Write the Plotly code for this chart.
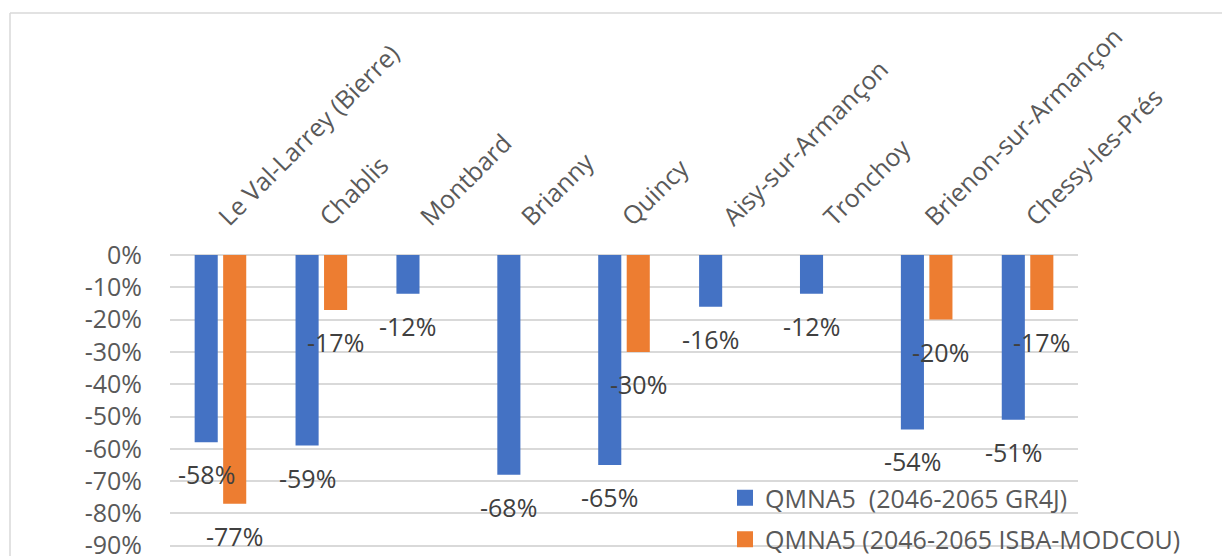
import plotly.graph_objects as go

categories = ["Le Val-Larrey (Bierre)", "Chablis", "Montbard", "Brianny", "Quincy",
              "Aisy-sur-Armançon", "Tronchoy", "Brienon-sur-Armançon", "Chessy-les-Prés"]
gr4j = [-58, -59, -12, -68, -65, -16, -12, -54, -51]
isba = [-77, -17, None, None, -30, None, None, -20, -17]
series_names = ["QMNA5\u00a0 (2046-2065 GR4J)", "QMNA5 (2046-2065 ISBA-MODCOU)"]
colors = ["#4472C4", "#ED7D31"]
tick_values = [0, -10, -20, -30, -40, -50, -60, -70, -80, -90, -100]
tick_labels = ["0%", "-10%", "-20%", "-30%", "-40%", "-50%", "-60%", "-70%", "-80%", "-90%", "-100%"]

# page body has an 8px margin: figure starts at screen (8, 8);
# the chart continues below the visible window (as in the cropped reference)
OFF = 8
PLOT_TOP, PLOT_LEFT, PLOT_RIGHT = 255, 170, 1078
PX_PER_10 = 32.3
plot_bottom = PLOT_TOP + PX_PER_10 * 10
MB = 10
W = 1230 - OFF
H = int(round(plot_bottom - OFF + MB))
ML, MR, MT = PLOT_LEFT - OFF, 1230 - PLOT_RIGHT, PLOT_TOP - OFF
MB = H - MT - (plot_bottom - PLOT_TOP)
BARGAP, BARGROUPGAP = 0.435, 0.19
FONT = "Open Sans"
pw = W - ML - MR
ph = H - MT - MB
slot = pw / len(categories)
off = slot * (1 - BARGAP) / 4

fig = go.Figure()
for vals, name, col in zip([gr4j, isba], series_names, colors):
    fig.add_trace(go.Bar(x=categories, y=vals, name=name, marker=dict(color=col, line=dict(width=0)),
                         showlegend=False))
for i, (name, col) in enumerate(zip(series_names, colors)):
    fig.add_trace(go.Scatter(x=[None], y=[None], mode="markers", name=name,
                             legendgroup=f"g{i}",
                             marker=dict(symbol="square", size=16, color=col)))

annotations = []
for vals, sign in zip([gr4j, isba], [-1, 1]):
    for c, v in zip(categories, vals):
        if v is None:
            continue
        annotations.append(dict(x=c, y=v, xref="x", yref="y", text=f"{v}%", showarrow=False,
                                xshift=sign * off, yshift=-32, yanchor="middle",
                                font=dict(family=FONT, size=25, color="#404040")))

# screen pixel -> paper coordinates
def px_x(X):
    return (X - OFF - ML) / pw

def px_y(Y):
    return (H - MB - (Y - OFF)) / ph

shapes = [
    dict(type="line", xref="paper", yref="paper", x0=px_x(10), x1=px_x(1240), y0=px_y(13), y1=px_y(13),
         line=dict(color="#D9D9D9", width=1.5)),
    dict(type="line", xref="paper", yref="paper", x0=px_x(10), x1=px_x(10), y0=px_y(13), y1=px_y(600),
         line=dict(color="#D9D9D9", width=1.5)),
]

fig.update_layout(
    template="none",
    width=W, height=H, autosize=False,
    margin=dict(l=ML, r=MR, t=MT, b=MB, pad=0, autoexpand=False),
    paper_bgcolor="white", plot_bgcolor="white",
    barmode="group", bargap=BARGAP, bargroupgap=BARGROUPGAP,
    font=dict(family=FONT, size=25, color="#595959"),
    annotations=annotations,
    shapes=shapes,
    legend=dict(x=px_x(725), y=px_y(475), xanchor="left", yanchor="top",
                bgcolor="rgba(0,0,0,0)", traceorder="grouped", tracegroupgap=6,
                font=dict(family=FONT, size=25, color="#595959")),
    xaxis=dict(side="top", tickangle=-45, showgrid=False, showline=False, ticks="", automargin=False,
               ticklabelstandoff=18, tickfont=dict(family=FONT, size=25, color="#595959")),
    yaxis=dict(range=[-100, 0], tickvals=tick_values, ticktext=tick_labels, showgrid=True,
               automargin=False, gridcolor="#D9D9D9", gridwidth=1.5, zeroline=True,
               zerolinecolor="#D9D9D9", zerolinewidth=1.5, showline=False, ticks="",
               ticklabelstandoff=27, tickfont=dict(family=FONT, size=25, color="#595959")),
)

fig.write_html("out.html")
